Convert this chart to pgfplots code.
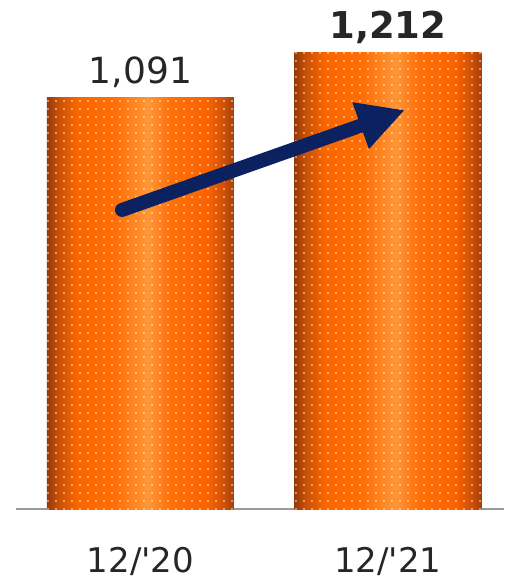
\documentclass[border=0pt]{standalone}
\usepackage{pgfplots}
\pgfplotsset{compat=1.18}
\usepackage{fontspec}
\setmainfont{DejaVu Sans}
\usetikzlibrary{arrows.meta,patterns.meta}

\definecolor{txt}{HTML}{262626}
\definecolor{navy}{HTML}{0B2160}
\definecolor{basegray}{HTML}{9A9A9A}

% cylinder-like orange fill: dark rims, bright streak right of centre
\pgfdeclarehorizontalshading{orangebar}{100bp}{%
  color(0bp)=(black!40!orange);
  color(25bp)=({rgb,255:red,150;green,58;blue,10});
  color(28bp)=({rgb,255:red,200;green,80;blue,5});
  color(33bp)=({rgb,255:red,250;green,102;blue,0});
  color(43bp)=({rgb,255:red,255;green,110;blue,5});
  color(52bp)=({rgb,255:red,255;green,150;blue,55});
  color(58bp)=({rgb,255:red,255;green,112;blue,8});
  color(68bp)=({rgb,255:red,250;green,98;blue,0});
  color(72bp)=({rgb,255:red,210;green,82;blue,5});
  color(75bp)=({rgb,255:red,165;green,62;blue,10});
  color(100bp)=({rgb,255:red,165;green,62;blue,10})}

\pgfplotsset{
  cyl bar/.style={
    ybar, bar width=0.7556, bar shift=0pt, draw=none, mark=none,
    shade, shading=orangebar,
    postaction={shade=false, pattern={Dots[distance=8pt, radius=0.9pt]},
                pattern color=white!85!orange},
    nodes near coords,
  },
}

\begin{document}
\begin{tikzpicture}
\useasboundingbox (-16pt,-72pt) rectangle (488pt,509pt);
\begin{axis}[
  scale only axis,
  width=488pt, height=509pt,
  xmin=-0.503, xmax=1.469,
  ymin=0, ymax=1351,
  axis y line=none,
  axis x line*=bottom,
  x axis line style={draw=basegray, line width=2pt, -},
  xtick={0,1},
  xticklabels={12/\textquotesingle 20,12/\textquotesingle 21},
  major tick length=0pt,
  xticklabel style={anchor=base, yshift=-63pt, font=\fontsize{34}{40}\selectfont, text=txt},
  ytick=\empty,
  clip=false,
  /pgf/number format/.cd, 1000 sep={,}, fixed, assume math mode=true,
  /pgfplots/.cd,
  nodes near coords style={anchor=base, yshift=14pt, text=txt},
]
\addplot[cyl bar, nodes near coords style={font=\fontsize{36}{42}\selectfont}]
  coordinates {(0,1091)};
\addplot[cyl bar, nodes near coords style={font=\fontsize{37}{44}\selectfont\bfseries}]
  coordinates {(1,1212)};
% growth arrow
\addplot[draw=navy, line width=14pt, line cap=round, mark=none,
  -{Triangle[length=47pt, width=46pt]}]
  coordinates {(-0.0747,793.7) (1.0687,1059)};
\end{axis}
\end{tikzpicture}
\end{document}
